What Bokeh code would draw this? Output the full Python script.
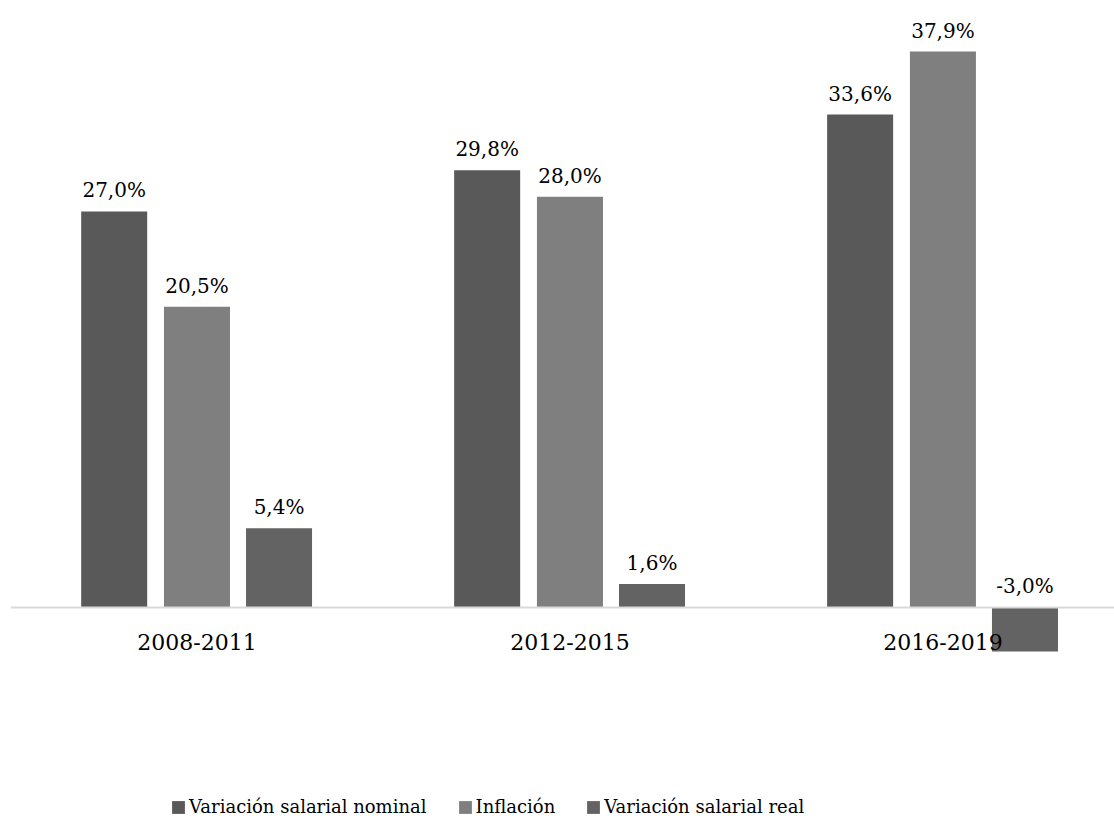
from bokeh.plotting import figure
from bokeh.models import ColumnDataSource, Range1d, Span, Legend, LegendItem
from bokeh.core.properties import value
from bokeh.embed import file_html
from bokeh.resources import INLINE

# Periods and percentage changes per series
periods = ["2008-2011", "2012-2015", "2016-2019"]
series_names = ["Variación salarial nominal", "Inflación", "Variación salarial real"]
nominal = [27.0, 29.8, 33.6]
inflation = [20.5, 28.0, 37.9]
real = [5.4, 1.6, -3.0]

colors = ["#595959", "#7f7f7f", "#636363"]
offsets = [-0.222, 0.0, 0.22]
bar_width = 0.177
font = "DejaVu Serif"

p = figure(width=1114, height=821, output_backend="svg", toolbar_location=None,
           x_axis_type=None, y_axis_type=None,
           x_range=Range1d(-0.5, 2.46), y_range=Range1d(-14.59, 41.38),
           min_border_left=10, min_border_right=0, min_border_top=0, min_border_bottom=0)
p.outline_line_color = None
p.grid.visible = False
p.background_fill_color = "white"
p.border_fill_color = "white"

def fmt(v):
    return f"{v:.1f}".replace(".", ",") + "%"

renderers = []
for vals, col, off in zip([nominal, inflation, real], colors, offsets):
    src = ColumnDataSource(dict(
        x=[i + off for i in range(len(periods))],
        top=vals,
        ly=[max(v, 0) for v in vals],
        lab=[fmt(v) for v in vals],
    ))
    r = p.vbar(x="x", top="top", bottom=0, width=bar_width, source=src,
               fill_color=col, line_color=None)
    renderers.append(r)
    p.text(x="x", y="ly", text="lab", source=src, text_align="center",
           text_baseline="bottom", y_offset=-9, text_font=value(font),
           text_font_size="20px", text_color="#000000")

# zero line
p.add_layout(Span(location=0, dimension="width", line_color="#d9d9d9", line_width=2))

# category labels below the zero line
cat_src = ColumnDataSource(dict(x=list(range(len(periods))), y=[0] * len(periods), t=periods))
p.text(x="x", y="y", text="t", source=cat_src, text_align="center",
       text_baseline="middle", y_offset=35, text_font=value(font),
       text_font_size="22px", text_color="#000000")

legend = Legend(
    items=[LegendItem(label=n, renderers=[r]) for n, r in zip(series_names, renderers)],
    orientation="horizontal", location=(160, 4),
    glyph_width=16, glyph_height=16, label_standoff=3, spacing=30,
    label_text_font=font, label_text_font_size="18px", label_text_color="#000000",
    border_line_color=None, background_fill_alpha=0, padding=0, margin=0,
)
p.add_layout(legend, "center")

open("out.html", "w").write(file_html(p, INLINE))
